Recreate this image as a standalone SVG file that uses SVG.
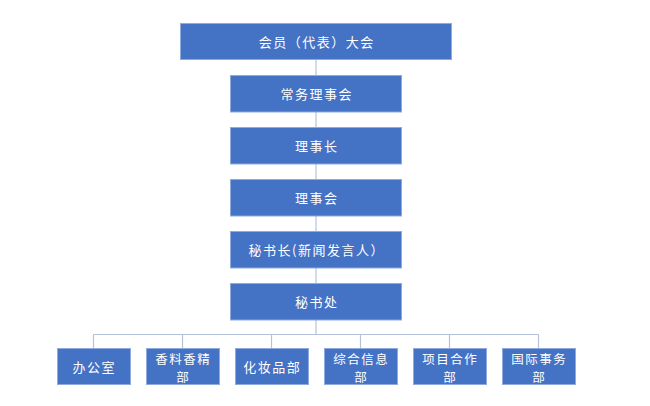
<svg xmlns="http://www.w3.org/2000/svg" width="650" height="406" viewBox="0 0 650 406">
<style>
.box{fill:#4472C4;stroke:#8FAADC;stroke-width:1}
.t{fill:#FFFFFF;font-family:"Noto Sans CJK SC","Noto Sans",sans-serif;font-size:13px;letter-spacing:1.5px;text-anchor:middle;dominant-baseline:central}
.t2{font-size:12.5px}
.c{stroke:#B4C3DB;stroke-width:1.2;fill:none}
</style>
<rect width="650" height="406" fill="#FFFFFF"/>
<g id="connectors">
<path class="c" d="M316 59.5V75.5M316 112V127.5M316 164V179.5M316 216V231.5M316 268V283.5M316 320V334.5"/>
<path class="c" d="M93.5 334.5H538.5M93.5 334.5V348.5M182.5 334.5V348.5M271.5 334.5V348.5M360.5 334.5V348.5M449.5 334.5V348.5M538.5 334.5V348.5"/>
</g>
<g id="n1"><rect class="box" x="180.5" y="23.5" width="271" height="36"/><text class="t" x="316.8" y="41.5">会员（代表）大会</text></g>
<g id="n2"><rect class="box" x="230.5" y="75.5" width="171" height="36.5"/><text class="t" x="316.8" y="93.5">常务理事会</text></g>
<g id="n3"><rect class="box" x="230.5" y="127.5" width="171" height="36.5"/><text class="t" x="316.8" y="145.5">理事长</text></g>
<g id="n4"><rect class="box" x="230.5" y="179.5" width="171" height="36.5"/><text class="t" x="316.8" y="197.5">理事会</text></g>
<g id="n5"><rect class="box" x="230.5" y="231.5" width="171" height="36.5"/><text class="t" x="316.8" y="249.5">秘书长(新闻发言人）</text></g>
<g id="n6"><rect class="box" x="230.5" y="283.5" width="171" height="36.5"/><text class="t" x="316.8" y="301.5">秘书处</text></g>
<g id="b1"><rect class="box" x="57.5" y="348.5" width="73" height="36"/><text class="t" x="94.3" y="366.5">办公室</text></g>
<g id="b2"><rect class="box" x="146.5" y="348.5" width="73" height="36"/><text class="t t2"><tspan x="183.3" y="357.5">香料香精</tspan><tspan x="183.3" y="375.5">部</tspan></text></g>
<g id="b3"><rect class="box" x="235.5" y="348.5" width="73" height="36"/><text class="t" x="272.3" y="366.5">化妆品部</text></g>
<g id="b4"><rect class="box" x="324.5" y="348.5" width="73" height="36"/><text class="t t2"><tspan x="361.3" y="357.5">综合信息</tspan><tspan x="361.3" y="375.5">部</tspan></text></g>
<g id="b5"><rect class="box" x="413.5" y="348.5" width="73" height="36"/><text class="t t2"><tspan x="450.3" y="357.5">项目合作</tspan><tspan x="450.3" y="375.5">部</tspan></text></g>
<g id="b6"><rect class="box" x="502.5" y="348.5" width="73" height="36"/><text class="t t2"><tspan x="539.3" y="357.5">国际事务</tspan><tspan x="539.3" y="375.5">部</tspan></text></g>
</svg>
